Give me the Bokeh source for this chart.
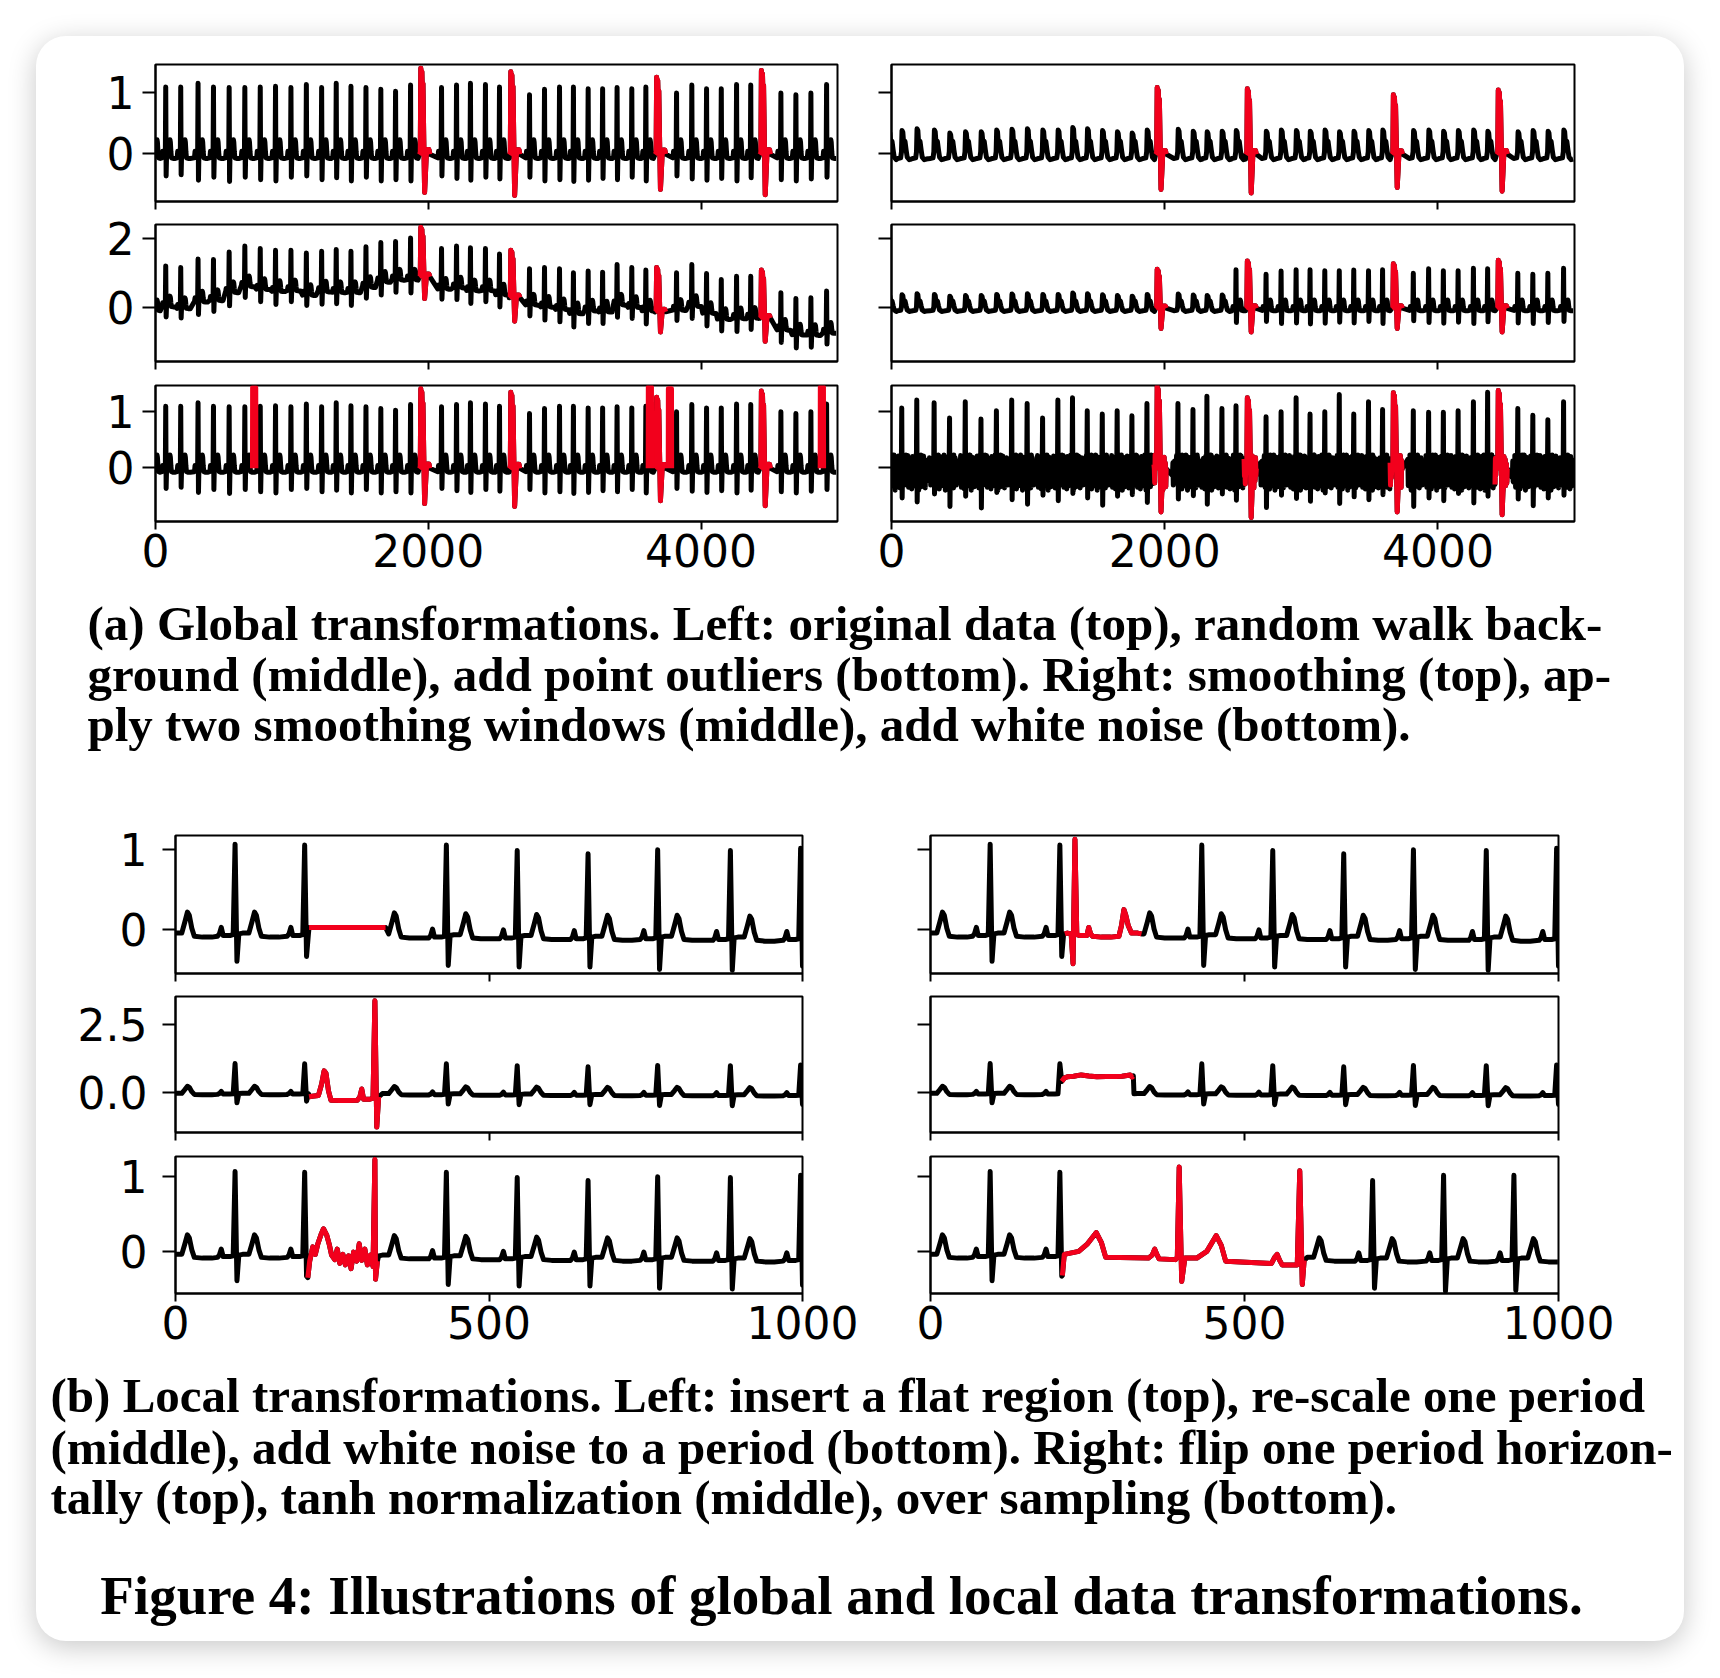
import itertools
from bokeh.plotting import figure
from bokeh.layouts import row, column
from bokeh.models import Range1d, FixedTicker, PrintfTickFormatter
from bokeh.core.properties import value
from bokeh.embed import file_html
from bokeh.resources import INLINE

BLACK = "#000000"
RED = "#f2001c"

# ---------------------------------------------------------------- templates
# normal ECG beat: offsets (samples) from the R peak and values; R / S replaced per beat
BEAT_OFF = [-28, -25, -22, -19, -8, -3, 0, 3, 6, 12, 22, 27, 31, 34, 38, 42, 55, 70]
BEAT_VAL = [-0.08, -0.05, 0.03, -0.07, -0.07, -0.06, 1.0, -0.40, -0.05, -0.04,
            -0.04, 0.10, 0.22, 0.18, 0.02, -0.08, -0.09, -0.09]
R_IDX, S_IDX = 6, 7
# anomalous beat: fractions of the peak (>=0) or of the trough depth (<0)
ANOM_OFF = [-10, -2, 2, 6, 10, 14, 18, 24, 30, 36, 42, 48, 62, 68]
ANOM_FRAC = [-0.04, 0.0, 1.0, 0.72, 0.96, 0.68, 0.82, 0.14, -1.0, -0.55, -0.08, 0.04, 0.04, -0.03]
# smoothed beat
SMOOTH_OFF = [-30, -8, -2, 2, 8, 12, 24, 32, 40, 55, 70]
SMOOTH_VAL = [-0.09, -0.08, 0.02, 0.38, 0.35, 0.22, 0.19, 0.05, -0.07, -0.11, -0.10]
SM_IDX = 3
# white noise samples (read as a band of about +-0.3)
NOISE_OFF = [-40, -37, -34, -31, -28, -25, -22, -19, -16, -13, -10, -7, 8, 11, 14, 17,
             20, 23, 26, 29, 32, 35, 38, 41, 44, 47, 50, 53, 56, 59, 62, 65]
ANOM_NOISE_OFF = [-22, -19, -16, -13, 38, 41, 44, 47, 50, 53, 56, 59, 62, 65]
NOISE_VALS = [0.12, -0.21, 0.05, 0.27, -0.14, -0.30, 0.18, 0.02, -0.25, 0.22, -0.08, 0.15,
              -0.33, 0.09, 0.25, -0.17, -0.04, 0.20, -0.27, 0.11, 0.03, -0.22, 0.28, -0.12,
              0.07, -0.35, 0.16, -0.06, 0.24, -0.19, 0.01, 0.13, -0.29, 0.21, -0.10, 0.06,
              -0.24, 0.26, -0.15, 0.10, -0.02, -0.31, 0.19, 0.04, -0.18, 0.23, -0.09, 0.14,
              -0.26, 0.08, -0.13, 0.17, -0.20]

# ---------------------------------------------------------------- global data (5000 samples)
G_N_R = [-20, 75, 185, 312, 425, 540, 655, 768, 880, 993, 1106, 1218, 1325, 1433, 1543, 1652,
         1760, 1870, 2097, 2207, 2309, 2419, 2522, 2742, 2852, 2962, 3064, 3172, 3278, 3384,
         3492, 3595, 3820, 3932, 4040, 4148, 4260, 4364, 4585, 4695, 4805, 4920]
G_N_PEAK = [1.00, 1.09, 1.09, 1.15, 1.09, 1.08, 1.08, 1.09, 1.10, 1.08, 1.13, 1.08, 1.15, 1.10,
            1.08, 1.05, 1.02, 1.12, 1.08, 1.12, 1.15, 1.13, 1.09, 0.96, 1.05, 1.09, 1.09, 1.06,
            1.06, 1.08, 1.06, 1.09, 0.99, 1.12, 1.06, 1.06, 1.13, 1.12, 0.99, 0.96, 0.99, 1.13]
G_N_TROUGH = [-0.40, -0.38, -0.36, -0.45, -0.40, -0.47, -0.40, -0.44, -0.46, -0.40,
              -0.38, -0.44, -0.41, -0.46, -0.40, -0.46, -0.44, -0.46, -0.38, -0.42,
              -0.45, -0.40, -0.43, -0.40, -0.46, -0.44, -0.47, -0.45, -0.42, -0.44,
              -0.40, -0.46, -0.38, -0.43, -0.45, -0.42, -0.46, -0.41, -0.44, -0.46,
              -0.43, -0.40]
G_N_DRIFT = [0.0, 0.11, 0.06, 0.25, 0.29, 0.52, 0.69, 0.61, 0.55, 0.57, 0.44, 0.54, 0.52, 0.52,
             0.67, 0.82, 0.88, 0.88, 0.62, 0.65, 0.57, 0.57, 0.45, 0.16, 0.10, 0.03, -0.09,
             -0.01, -0.04, 0.16, 0.09, -0.01, 0.01, 0.12, -0.08, -0.25, -0.23, -0.22, -0.56,
             -0.70, -0.71, -0.65]
G_SM_PEAK = [0.36, 0.37, 0.40, 0.38, 0.33, 0.35, 0.35, 0.38, 0.39, 0.40,
             0.38, 0.38, 0.42, 0.40, 0.37, 0.35, 0.33, 0.38, 0.39, 0.36,
             0.35, 0.36, 0.37, 0.36, 0.38, 0.37, 0.36, 0.38, 0.35, 0.36,
             0.37, 0.38, 0.37, 0.38, 0.36, 0.37, 0.38, 0.36, 0.35, 0.37,
             0.36, 0.38]
G_NZ_PEAK = [1.00, 1.06, 1.20, 1.15, 0.88, 1.17, 0.86, 1.01, 1.20, 1.14, 0.88, 1.20, 1.24, 1.01,
             0.95, 1.01, 0.92, 1.14, 1.14, 1.03, 1.27, 1.05, 1.10, 0.90, 0.99, 1.24, 0.95, 0.99,
             1.30, 0.95, 1.17, 1.03, 1.01, 0.98, 0.98, 1.01, 1.17, 1.34, 1.05, 0.93, 0.85, 1.17]
G_NZ_TROUGH = [-0.50, -0.55, -0.62, -0.48, -0.70, -0.52, -0.73, -0.45, -0.58, -0.66,
               -0.50, -0.60, -0.47, -0.55, -0.68, -0.52, -0.49, -0.63, -0.57, -0.51,
               -0.66, -0.48, -0.59, -0.72, -0.50, -0.56, -0.61, -0.46, -0.65, -0.53,
               -0.58, -0.49, -0.70, -0.55, -0.60, -0.47, -0.64, -0.52, -0.57, -0.69,
               -0.55, -0.50]
SMOOTH_UNTIL = 2500          # right-middle: beats before this sample are smoothed

G_A_R = [1943, 2603, 3672, 4440]
G_A_PEAK = [1.40, 1.34, 1.25, 1.36]
G_A_TROUGH = [-0.65, -0.70, -0.60, -0.69]
G_A_DRIFT = [0.91, 0.31, -0.10, -0.28]
G_A_SM_PEAK = [1.08, 1.06, 0.96, 1.04]
G_A_SM_TROUGH = [-0.60, -0.66, -0.57, -0.63]
G_A_TW_PEAK = [1.10, 1.34, 1.26, 1.36]
G_A_TW_TROUGH = [-0.60, -0.70, -0.60, -0.70]
G_A_NZ_PEAK = [1.45, 1.24, 1.33, 1.37]
G_A_NZ_TROUGH = [-0.80, -0.90, -0.80, -0.85]

G_OUTLIER = [711, 3612, 3759, 4873]
G_OUTLIER_H = [1.42, 1.43, 1.40, 1.43]

# ---------------------------------------------------------------- local data (1000 samples)
B_R = [-12, 95, 206, 318, 432, 545, 658, 769, 885, 997]
B_PEAK = [1.00, 1.06, 1.05, 0.97, 1.07, 1.01, 0.98, 1.03, 1.03, 1.06]
B_TROUGH = [-0.38, -0.39, -0.33, -0.37, -0.42, -0.43, -0.42, -0.45, -0.45, -0.40]
B_BASE = [0.0, 0.0, 0.0, -0.01, -0.02, -0.03, -0.04, -0.04, -0.05, -0.05]

FLAT_X = [213, 335]
FLAT_Y = [0.03, 0.03]
RESCALE_X = [213, 218, 228, 233, 237, 240, 244, 248, 262, 277, 290, 294, 297, 300, 310, 315, 318, 321, 324]
RESCALE_Y = [-0.17, -0.15, -0.12, 0.30, 0.79, 0.70, 0.05, -0.30, -0.31, -0.31, -0.30, -0.18,
             0.12, -0.26, -0.26, -0.22, 3.38, -1.29, -0.17]
PNOISE_X = [211, 214, 219, 223, 227, 232, 236, 241, 245, 249, 254, 258, 262, 267, 271, 276,
            280, 284, 289, 293, 297, 302, 306, 311, 315, 318, 319, 322]
PNOISE_Y = [-0.35, -0.13, 0.06, -0.04, 0.10, 0.22, 0.30, 0.22, 0.10, -0.05, -0.11, 0.03, -0.16,
            -0.04, -0.18, -0.06, -0.23, -0.01, -0.13, 0.10, -0.12, 0.03, -0.18, -0.05, -0.20,
            1.22, -0.37, -0.13]
FLIP_X = [214, 218, 224, 227, 230, 233, 238, 249, 252, 255, 258, 272, 287, 300, 304, 308, 311,
          315, 320, 330, 336]
FLIP_Y = [-0.05, -0.04, -0.05, -0.42, 1.12, -0.06, -0.07, -0.07, 0.03, -0.05, -0.08, -0.09,
          -0.09, -0.08, 0.05, 0.25, 0.18, 0.05, -0.04, -0.04, -0.05]
TANH_X = [209, 213, 218, 228, 240, 252, 265, 280, 295, 305, 318, 321, 323]
TANH_Y = [0.40, 0.52, 0.57, 0.59, 0.64, 0.60, 0.57, 0.58, 0.58, 0.59, 0.64, 0.56, 0.60]
OS_X = [210, 213, 236, 250, 264, 272, 279, 347, 353, 357, 361, 364, 390, 393, 396, 400, 405,
        424, 440, 455, 463, 470, 543, 548, 552, 556, 560, 584, 588, 592, 595]
OS_Y = [-0.32, -0.04, 0.0, 0.10, 0.25, 0.12, -0.08, -0.09, -0.05, 0.03, -0.05, -0.10, -0.11,
        -0.08, 1.12, -0.40, -0.09, -0.09, 0.0, 0.21, 0.08, -0.13, -0.16, -0.08, -0.04, -0.12,
        -0.18, -0.18, 1.07, -0.44, -0.12]
OS_AFTER_R = [588, 704, 817, 929]
OS_AFTER_PEAK = [1.07, 0.99, 1.06, 1.06]
OS_AFTER_TROUGH = [-0.44, -0.44, -0.48, -0.47]
OS_AFTER_BASE = [-0.04, -0.05, -0.05, -0.05]

# ---------------------------------------------------------------- text
CAP_A = ["(a) Global transformations. Left: original data (top), random walk back-",
         "ground (middle), add point outliers (bottom). Right: smoothing (top), ap-",
         "ply two smoothing windows (middle), add white noise (bottom)."]
CAP_B = ["(b) Local transformations. Left: insert a flat region (top), re-scale one period",
         "(middle), add white noise to a period (bottom). Right: flip one period horizon-",
         "tally (top), tanh normalization (middle), over sampling (bottom)."]
FIG_CAP = "Figure 4: Illustrations of global and local data transformations."


# ---------------------------------------------------------------- helpers
def normal_beat(r, peak, trough, shift=0.0):
    val = list(BEAT_VAL)
    val[R_IDX] = peak
    val[S_IDX] = trough
    return [(r + o, v + shift) for o, v in zip(BEAT_OFF, val)]


def smooth_beat(r, peak, shift=0.0):
    val = list(SMOOTH_VAL)
    val[SM_IDX] = peak
    val[SM_IDX + 1] = peak - 0.03
    return [(r + o, v + shift) for o, v in zip(SMOOTH_OFF, val)]


def anom_beat(r, peak, trough, shift=0.0):
    return [(r + o, (f * peak if f >= 0 else -f * trough) + shift)
            for o, f in zip(ANOM_OFF, ANOM_FRAC)]


def add_noise(pts, r, offs, it):
    extra = [(r + o, -0.06 + next(it)) for o in offs]
    return sorted(pts + extra, key=lambda p: p[0])


def join(beats):
    beats = sorted(beats, key=lambda b: b[0][0])
    xs, ys = [], []
    for i, b in enumerate(beats):
        lim = beats[i + 1][0][0] if i + 1 < len(beats) else float("inf")
        for x, y in b:
            if x < lim:
                xs.append(x)
                ys.append(y)
    return xs, ys


def global_panel(kind):
    beats, reds = [], []
    it = itertools.cycle(NOISE_VALS)
    for i, r in enumerate(G_N_R):
        if kind == "walk":
            b = normal_beat(r, G_N_PEAK[i], G_N_TROUGH[i], G_N_DRIFT[i])
        elif kind == "smooth":
            b = smooth_beat(r, G_SM_PEAK[i])
        elif kind == "two":
            b = smooth_beat(r, G_SM_PEAK[i]) if r < SMOOTH_UNTIL else normal_beat(r, G_N_PEAK[i], G_N_TROUGH[i])
        elif kind == "noise":
            b = add_noise(normal_beat(r, G_NZ_PEAK[i], G_NZ_TROUGH[i]), r, NOISE_OFF, it)
        else:
            b = normal_beat(r, G_N_PEAK[i], G_N_TROUGH[i])
        beats.append(b)
    for j, r in enumerate(G_A_R):
        if kind == "walk":
            a = anom_beat(r, G_A_PEAK[j], G_A_TROUGH[j], G_A_DRIFT[j])
        elif kind == "smooth":
            a = anom_beat(r, G_A_SM_PEAK[j], G_A_SM_TROUGH[j])
        elif kind == "two":
            a = anom_beat(r, G_A_TW_PEAK[j], G_A_TW_TROUGH[j])
        elif kind == "noise":
            a = add_noise(anom_beat(r, G_A_NZ_PEAK[j], G_A_NZ_TROUGH[j]), r, ANOM_NOISE_OFF, it)
        else:
            a = anom_beat(r, G_A_PEAK[j], G_A_TROUGH[j])
        beats.append(a)
        reds.append(a)
    xs, ys = join(beats)
    rx = [[p[0] for p in a] for a in reds]
    ry = [[p[1] for p in a] for a in reds]
    if kind == "outlier":
        for t, h in zip(G_OUTLIER, G_OUTLIER_H):
            rx.append([t, t + 1, t + 24, t + 25])
            ry.append([-0.02, h, h, -0.02])
    return xs, ys, rx, ry


def local_base():
    return join([normal_beat(r, p, t, s) for r, p, t, s in zip(B_R, B_PEAK, B_TROUGH, B_BASE)])


def splice(lo, hi, rx, ry, after=None):
    bx, by = local_base()
    ax, ay = after if after is not None else (bx, by)
    xs = [x for x in bx if x < lo] + list(rx) + [x for x in ax if x > hi]
    ys = [y for x, y in zip(bx, by) if x < lo] + list(ry) + [y for x, y in zip(ax, ay) if x > hi]
    return xs, ys


# ---------------------------------------------------------------- figures
TICK_FONT = "44px"


def panel(w, h, bl, br, bt, bb, xr, yr, xticks, yticks, xlab, ylab, ystand, yfmt=None):
    p = figure(width=w, height=h, x_range=Range1d(*xr), y_range=Range1d(*yr),
               output_backend="svg", toolbar_location=None,
               min_border_left=bl, min_border_right=br, min_border_top=bt, min_border_bottom=bb)
    p.grid.visible = False
    p.background_fill_color = "white"
    p.border_fill_color = None
    p.outline_line_color = "black"
    p.outline_line_width = 2
    xa, ya = p.xaxis[0], p.yaxis[0]
    xa.ticker = FixedTicker(ticks=xticks)
    ya.ticker = FixedTicker(ticks=yticks)
    if yfmt:
        ya.formatter = PrintfTickFormatter(format=yfmt)
    for ax in (xa, ya):
        ax.axis_line_width = 2
        ax.axis_line_color = "black"
        ax.major_tick_line_width = 2
        ax.major_tick_line_color = "black"
        ax.minor_tick_line_color = None
        ax.major_tick_in = 0
        ax.major_label_text_font = "DejaVu Sans"
        ax.major_label_text_font_size = TICK_FONT
        ax.major_label_text_color = "black"
    xa.major_tick_out = 8
    ya.major_tick_out = 13
    xa.major_label_standoff = 4
    ya.major_label_standoff = ystand
    if not xlab:   # shared x axis: ticks only
        xa.major_label_text_color = None
        xa.major_label_text_font_size = "1px"
        xa.major_label_standoff = 0
    if not ylab:   # shared y axis: ticks only
        ya.major_label_text_color = None
        ya.major_label_text_font_size = "1px"
        ya.major_label_standoff = 0
    return p


def draw(p, xs, ys, rx, ry, lw):
    p.line(xs, ys, line_color=BLACK, line_width=lw, line_join="round")
    if rx:
        p.multi_line(rx, ry, line_color=RED, line_width=lw, line_join="round")


# global (a) layout
GA_ROWS = [  # height, top border, bottom border, y range, y ticks, x labels
    (176, 28, 11, (-0.80, 1.46), [0, 1], False),
    (161, 12, 12, (-1.55, 2.39), [0, 2], False),
    (208, 12, 60, (-0.97, 1.46), [0, 1], True),
]
GA_KINDS = [("orig", "smooth"), ("walk", "two"), ("outlier", "noise")]
a_rows = []
for (h, bt, bb, yr, yt, xl), (kl, kr) in zip(GA_ROWS, GA_KINDS):
    pl = panel(811, h, 119, 10, bt, bb, (0, 5000), yr, [0, 2000, 4000], yt, xl, True, 8)
    pr = panel(837, h, 44, 110, bt, bb, (0, 5000), yr, [0, 2000, 4000], yt, xl, False, 8)
    draw(pl, *global_panel(kl), 5.0)
    draw(pr, *global_panel(kr), 5.0)
    a_rows.append(row(pl, pr))

# local (b) layout
GB_ROWS = [
    (184, 35, 11, (-0.54, 1.167), [0, 1], False, None),
    (160, 12, 12, (-1.49, 3.54), [0, 2.5], False, "%.1f"),
    (209, 12, 60, (-0.56, 1.26), [0, 1], True, None),
]
os_after = join([normal_beat(r, p, t, s) for r, p, t, s in
                 zip(OS_AFTER_R, OS_AFTER_PEAK, OS_AFTER_TROUGH, OS_AFTER_BASE)])
GB_DATA = [
    (splice(213, 335, FLAT_X, FLAT_Y), (FLAT_X, FLAT_Y),
     splice(213, 336, FLIP_X, FLIP_Y), (FLIP_X, FLIP_Y)),
    (splice(213, 324, RESCALE_X, RESCALE_Y), (RESCALE_X, RESCALE_Y),
     splice(209, 323, TANH_X, TANH_Y), (TANH_X, TANH_Y)),
    (splice(211, 322, PNOISE_X, PNOISE_Y), (PNOISE_X, PNOISE_Y),
     splice(210, 595, OS_X, OS_Y, after=os_after), (OS_X, OS_Y)),
]
b_rows = []
for (h, bt, bb, yr, yt, xl, fmt), (sl, rl, sr, rr) in zip(GB_ROWS, GB_DATA):
    pl = panel(836, h, 139, 70, bt, bb, (0, 1000), yr, [0, 500, 1000], yt, xl, True, 15, fmt)
    pr = panel(812, h, 58, 126, bt, bb, (0, 1000), yr, [0, 500, 1000], yt, xl, False, 15, fmt)
    draw(pl, sl[0], sl[1], [rl[0]], [rl[1]], 5.0)
    draw(pr, sr[0], sr[1], [rr[0]], [rr[1]], 5.0)
    b_rows.append(row(pl, pr))


def caption_fig(h, xs, ys, texts, size, align):
    p = figure(width=1648, height=h, x_range=Range1d(0, 1648), y_range=Range1d(h, 0),
               x_axis_type=None, y_axis_type=None, output_backend="svg", toolbar_location=None,
               min_border_left=0, min_border_right=0, min_border_top=0, min_border_bottom=0)
    p.grid.visible = False
    p.outline_line_color = None
    p.background_fill_color = None
    p.border_fill_color = None
    p.text(x=xs, y=ys, text=texts, text_font=value("Liberation Serif"), text_font_style="bold",
           text_font_size=size, text_color="black", text_baseline="middle", text_align=align)
    return p


cap_a = caption_fig(219, [51, 51, 51], [42, 93, 143], CAP_A, "49px", "left")
cap_b = caption_fig(288, [14, 14, 14], [42, 94, 144], CAP_B, "49px", "left")
cap_b.text(x=[805], y=[242], text=[FIG_CAP], text_font=value("Liberation Serif"),
           text_font_style="bold", text_font_size="55px", text_color="black",
           text_baseline="middle", text_align="center")

root = column(*a_rows, cap_a, *b_rows, cap_b, margin=(36, 36, 36, 36),
              styles={"background-color": "white", "border-radius": "30px",
                      "box-shadow": "0px 6px 28px rgba(0,0,0,0.22)"})

open("out.html", "w").write(file_html(root, INLINE))
